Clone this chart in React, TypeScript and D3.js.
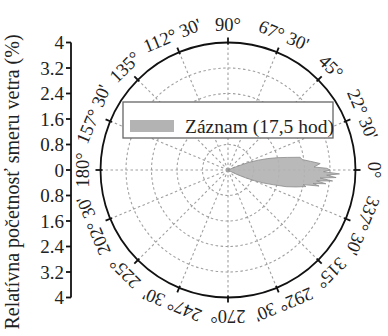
import React from "react";
import * as d3 from "d3";

const W = 388;
const H = 336;

// Polar grid / axis settings
const radialTicks = [0.8, 1.6, 2.4, 3.2];
const radialMax = 4;
const axisTickValues = [-4, -3.2, -2.4, -1.6, -0.8, 0, 0.8, 1.6, 2.4, 3.2, 4];
const angleTicks = [0, 22.5, 45, 67.5, 90, 112.5, 135, 157.5, 180, 202.5, 225, 247.5, 270, 292.5, 315, 337.5];
const angleLabels = [
  "0°", "22° 30'", "45°", "67° 30'", "90°", "112° 30'", "135°", "157° 30'",
  "180°", "202° 30'", "225°", "247° 30'", "270°", "292° 30'", "315°", "337° 30'",
];

// Wind rose data: direction (deg, 0 = east, counter-clockwise) and relative frequency (%)
const windDirs = [22, 20, 18, 16, 14, 12, 10, 8, 6, 4, 2, 1, 0, -1, -2, -3, -4, -5, -6, -7, -8, -9, -10, -11, -12, -14, -16, -18, -20, -22, -24, -26, -28];
const windFreq = [0.3, 0.7, 1.0, 1.3, 1.6, 1.9, 2.3, 2.35, 2.6, 2.9, 2.7, 3.1, 3.2, 3.0, 3.5, 3.1, 3.4, 2.9, 3.3, 2.8, 3.1, 2.7, 2.9, 2.4, 2.5, 2.2, 1.9, 1.5, 1.2, 0.9, 0.6, 0.35, 0.15];

const legendLabel = "Záznam (17,5 hod)";
const yTitle = "Relatívna početnosť smeru vetra (%)";

const FONT = "Liberation Serif, DejaVu Serif, serif";

export default function App() {
  const cx = 228;
  const cy = 170;
  const R = 127.5;
  const r = d3.scaleLinear().domain([0, radialMax]).range([0, R]);
  const yAxis = d3.scaleLinear().domain([-radialMax, radialMax]).range([cy + R, cy - R]);
  const axisX = 71;

  const toXY = (deg: number, rad: number) => {
    const a = (deg * Math.PI) / 180;
    return [cx + rad * Math.cos(a), cy - rad * Math.sin(a)];
  };

  const pts = windDirs.map((d, i) => ({ dir: d, val: windFreq[i] }));
  const all = [{ dir: windDirs[0], val: 0 }, ...pts, { dir: windDirs[windDirs.length - 1], val: 0 }];
  const line = d3
    .lineRadial<{ dir: number; val: number }>()
    .angle((d) => ((90 - d.dir) * Math.PI) / 180)
    .radius((d) => r(d.val))
    .curve(d3.curveLinearClosed);
  const shapePath = line(all) || "";

  const gridColor = "#a0a0a0";
  const ts = { fontFamily: FONT };

  return (
    <svg
      width={W}
      height={H}
      style={{ position: "absolute", left: 0, top: 0, background: "#fff", fontFamily: FONT }}
    >
      <rect width={W} height={H} fill="#fff" />
      {radialTicks.map((t) => (
        <circle key={t} cx={cx} cy={cy} r={r(t)} fill="none" stroke={gridColor} strokeWidth={1.1} strokeDasharray="2.5,2.5" />
      ))}
      {angleTicks.map((a) => {
        const [x, y] = toXY(a, R);
        return <line key={a} x1={cx} y1={cy} x2={x} y2={y} stroke={gridColor} strokeWidth={1.1} strokeDasharray="2.5,2.5" />;
      })}
      <g transform={`translate(${cx},${cy})`}>
        <path d={shapePath} fill="#b3b3b3" fillOpacity={0.92} stroke="#8c8c8c" strokeWidth={0.8} />
      </g>
      <circle cx={cx} cy={cy} r={R} fill="none" stroke="#111" strokeWidth={1.8} />
      {angleTicks.map((a) => {
        const [x1, y1] = toXY(a, R - 2);
        const [x2, y2] = toXY(a, R + 5);
        return <line key={a} x1={x1} y1={y1} x2={x2} y2={y2} stroke="#111" strokeWidth={1.8} />;
      })}
      {angleTicks.map((a, i) => {
        const [x, y] = toXY(a, R + 18);
        return (
          <text
            key={a}
            x={x}
            y={y}
            style={ts}
            fontSize={18.5}
            textAnchor="middle"
            dominantBaseline="central"
            fill="#222"
            transform={`rotate(${90 - a},${x},${y})`}
          >
            {angleLabels[i]}
          </text>
        );
      })}
      <rect x={123} y={102} width={210} height={36} fill="#fff" stroke="#666" strokeWidth={1.3} />
      <rect x={130} y={120} width={44} height={12} fill="#b3b3b3" />
      <text x={185} y={126} style={ts} fontSize={19.5} dominantBaseline="central" fill="#222">
        {legendLabel}
      </text>
      <line x1={axisX} y1={yAxis(-radialMax)} x2={axisX} y2={yAxis(radialMax)} stroke="#111" strokeWidth={1.8} />
      {axisTickValues.map((v) => (
        <g key={v}>
          <line x1={axisX - 5} x2={axisX} y1={yAxis(v)} y2={yAxis(v)} stroke="#111" strokeWidth={1.8} />
          <text x={axisX - 7} y={yAxis(v)} style={ts} fontSize={19} textAnchor="end" dominantBaseline="central" fill="#222">
            {d3.format("~g")(Math.abs(v))}
          </text>
        </g>
      ))}
      <text
        x={12}
        y={182}
        style={ts}
        fontSize={20}
        textAnchor="middle"
        dominantBaseline="central"
        fill="#222"
        transform={`rotate(-90,12,182)`}
      >
        {yTitle}
      </text>
    </svg>
  );
}
